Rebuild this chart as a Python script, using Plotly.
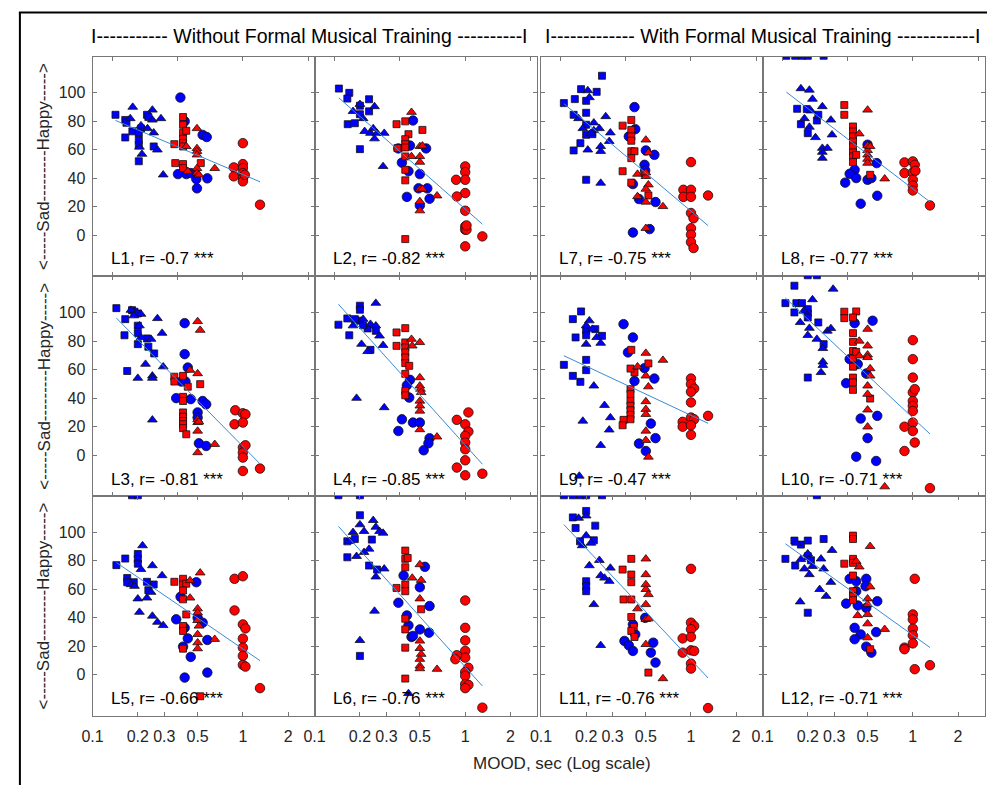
import numpy as np
import plotly.graph_objects as go

# ---------------- data (x = MOOD sec, y = rating) ----------------
# BS blue squares, BT blue triangles, BC blue circles, RS red squares, RT red triangles, RC red circles
L1_BS = [(0.142,84.6),(0.165,81),(0.168,79),(0.165,68.7),(0.184,73),(0.203,67),(0.203,63.5),(0.203,52),(0.23,84.6),(0.235,83),(0.255,62.4),(0.21,75),(0.203,72)]
L1_BT = [(0.185,90),(0.178,82),(0.21,77),(0.232,75),(0.25,88),(0.25,81),(0.255,72),(0.285,82),(0.27,60),(0.205,62),(0.213,57),(0.295,42.5)]
L1_BC = [(0.384,96.7),(0.41,80),(0.37,43),(0.42,43),(0.49,39.5),(0.495,33),(0.54,70.5),(0.575,69),(0.58,40),(0.45,43.7)]
L1_RS = [(0.35,64),(0.4,83),(0.4,77.6),(0.4,72),(0.42,73.4),(0.4,67.8),(0.4,64.7),(0.4,62.4),(0.355,50.7),(0.4,50),(0.4,47.2),(0.525,50.7)]
L1_RT = [(0.495,75),(0.495,61),(0.495,59),(0.495,56.5),(0.42,62.4),(0.43,45),(0.495,47),(0.495,43.7),(0.51,42.5),(0.65,47)]
L1_RC = [(1.0,64.7),(1.0,50),(1.0,47.2),(1.0,43.7),(1.0,40),(1.0,37.9),(0.87,47.7),(0.87,41.4),(1.03,42.5),(1.3,21.5)]

L2_BS = [(0.145,103),(0.17,100),(0.165,96),(0.23,95.5),(0.2,91),(0.23,87),(0.2,85),(0.166,78),(0.185,78.7),(0.2,60.5)]
L2_BT = [(0.2,92),(0.18,87),(0.25,90.4),(0.21,82),(0.215,73),(0.235,71.7),(0.25,67.8),(0.245,75),(0.26,71.7),(0.29,71.7),(0.285,48.4)]
L2_BC = [(0.45,80.6),(0.36,61),(0.38,51),(0.42,45),(0.43,63),(0.5,43),(0.55,61),(0.41,27),(0.49,33),(0.56,33),(0.58,25.7),(0.5,21)]
L2_RS = [(0.35,78),(0.4,80),(0.42,71),(0.4,67.5),(0.4,64),(0.4,61.7),(0.355,61.2),(0.52,74),(0.4,55.4),(0.4,46),(0.4,38.6),(0.4,-2.6)]
L2_RT = [(0.44,86.4),(0.5,62.4),(0.52,62.8),(0.5,55.4),(0.5,51.4),(0.44,55.4),(0.5,32.5),(0.52,32.5),(0.5,23.8),(0.5,17.3),(0.65,27.8)]
L2_RC = [(1.0,48.4),(1.0,44.4),(1.0,39),(1.0,29.7),(1.0,17.3),(1.0,6.3),(1.0,4),(1.02,4),(1.02,7),(1.0,-7.7),(0.87,39),(0.88,27.3),(1.3,-0.7)]

L3_BS = [(0.144,103),(0.165,95.3),(0.183,101.6),(0.19,100.5),(0.2,99.3),(0.2,90.7),(0.2,85.5),(0.23,81.8),(0.163,84),(0.2,77.8),(0.235,76),(0.257,71.3),(0.17,59)]
L3_BT = [(0.18,101.6),(0.21,98.8),(0.188,97.7),(0.27,95.8),(0.29,85.5),(0.205,90.7),(0.21,82.5),(0.245,81.3),(0.225,63.8),(0.295,62),(0.2,54),(0.25,55.6),(0.25,54),(0.25,24.8)]
L3_BC = [(0.41,92.5),(0.41,70.8),(0.43,61.4),(0.39,51.6),(0.415,51.6),(0.36,40),(0.45,39.3),(0.54,38),(0.57,35.7),(0.5,30),(0.5,26.4),(0.51,8.4),(0.57,6.5)]
L3_RS = [(0.35,55),(0.35,51.6),(0.4,55.6),(0.43,48),(0.52,49.8),(0.4,40.9),(0.4,38),(0.4,30),(0.4,27),(0.4,24),(0.4,21.7),(0.4,19),(0.42,14.7)]
L3_RT = [(0.5,93.7),(0.52,87.6),(0.445,59.6),(0.5,57.2),(0.5,25),(0.5,23),(0.51,23.4),(0.5,17),(0.65,7.7),(0.5,1.9)]
L3_RC = [(0.89,31.5),(1.0,29.4),(1.04,28.7),(0.88,21.7),(1.0,22.9),(1.0,5.4),(1.04,7),(1.0,1.9),(1.0,-1.6),(1.0,-11),(1.3,-9.3)]

L4_BS = [(0.144,91.4),(0.165,95.8),(0.17,84),(0.2,104.7),(0.2,101.9),(0.2,94.2),(0.185,95.3),(0.225,88.8),(0.255,87.1),(0.21,91),(0.235,73.8)]
L4_BT = [(0.255,106.5),(0.18,90.7),(0.21,95.3),(0.235,91.8),(0.255,90.7),(0.27,83.6),(0.285,77),(0.205,77.8),(0.225,72.7),(0.19,40),(0.29,33.4)]
L4_BC = [(0.43,52.8),(0.41,49),(0.425,40.4),(0.38,25.2),(0.36,17),(0.45,22.9),(0.5,22.9),(0.58,11.9),(0.57,8.4),(0.53,3.5)]
L4_RS = [(0.35,86),(0.4,89),(0.35,76.6),(0.4,79),(0.4,75.5),(0.4,72),(0.4,68.5),(0.4,64.5),(0.425,62.6),(0.4,57),(0.4,45),(0.4,42)]
L4_RT = [(0.44,81.3),(0.445,76.6),(0.5,79),(0.5,54.4),(0.5,48.6),(0.505,46.3),(0.51,44),(0.5,38),(0.5,34.6),(0.5,31),(0.5,18),(0.65,12.9)]
L4_RC = [(1.05,30),(0.88,24.8),(1.0,21.7),(1.05,16.6),(1.0,13.6),(1.0,8.9),(1.0,4.2),(1.0,-3.5),(0.88,-8.6),(1.0,-14),(1.3,-12.9)]

L5_BS = [(0.183,126),(0.2,126),(0.144,77),(0.165,81.6),(0.17,68),(0.2,84.8),(0.2,81.4),(0.2,78),(0.188,65),(0.235,59.4),(0.255,63.4),(0.23,65.3),(0.17,65)]
L5_BT = [(0.215,90.7),(0.25,76.7),(0.21,74),(0.29,69.7),(0.18,63.4),(0.19,62.2),(0.2,53.4),(0.23,54),(0.245,58),(0.205,44),(0.25,41.3),(0.27,37),(0.295,34.7)]
L5_BC = [(0.49,65),(0.385,54.8),(0.36,39),(0.41,33),(0.5,40),(0.54,36.6),(0.43,25.6),(0.4,19.8),(0.58,24.5),(0.45,12.6),(0.41,-1.9),(0.58,1.6)]
L5_RS = [(0.35,65.3),(0.4,67.4),(0.4,63.4),(0.42,64),(0.4,59.2),(0.4,53),(0.42,42.4),(0.4,34.3),(0.4,30.8),(0.4,18.4),(0.52,-15)]
L5_RT = [(0.52,71.6),(0.445,66.2),(0.445,54),(0.5,46.4),(0.5,43.6),(0.5,38.2),(0.51,34.3),(0.5,28.4),(0.5,22.6),(0.5,18.4),(0.65,25)]
L5_RC = [(0.88,67.4),(1.0,69.2),(0.88,45.2),(1.0,35.4),(1.04,32.6),(1.0,25.4),(1.0,19.1),(1.0,13.3),(1.0,7),(1.04,5.8),(1.3,-9.3)]

L6_BS = [(0.144,126),(0.2,126),(0.2,112),(0.185,95.3),(0.165,82.5),(0.24,94.9),(0.23,76.7),(0.26,73.9),(0.2,13.3),(0.165,93.7)]
L6_BT = [(0.2,105.4),(0.245,108.4),(0.18,100),(0.213,100.7),(0.255,103.7),(0.27,100.7),(0.285,99.5),(0.17,93.7),(0.19,83.2),(0.23,88.3),(0.213,86),(0.255,68.8),(0.29,74.4),(0.25,44.8),(0.2,24.2),(0.42,-13)]
L6_BC = [(0.54,75.8),(0.39,69.7),(0.5,61.5),(0.36,50.6),(0.58,48.3),(0.41,41.7),(0.42,34.7),(0.5,31.9),(0.575,29.6),(0.44,26.6),(0.45,27.3)]
L6_RS = [(0.4,87.2),(0.4,81.4),(0.415,82),(0.4,75.5),(0.35,61),(0.4,63.4),(0.4,58.7),(0.51,46),(0.4,39.4),(0.4,31.9),(0.4,19.1),(0.4,-2.6)]
L6_RT = [(0.5,77.4),(0.445,68),(0.51,66.4),(0.5,53.4),(0.5,23.8),(0.5,18.6),(0.51,14.5),(0.5,11),(0.5,6.3),(0.5,4.4),(0.65,4)]
L6_RC = [(1.0,52.2),(1.0,33),(1.0,24.2),(1.0,16.8),(1.0,12.1),(0.88,13.8),(0.86,11),(1.05,5),(1.0,2),(1.0,-0.7),(1.0,-6.5),(1.05,-7),(1.0,-9.3),(1.3,-23)]

L7_BS = [(0.142,92.8),(0.168,95.6),(0.185,102.6),(0.2,94.4),(0.2,86),(0.235,100.7),(0.255,112),(0.165,84.6),(0.2,77.6),(0.2,70.6),(0.183,64.7),(0.165,59.6),(0.2,39),(0.22,71)]
L7_BT = [(0.205,101.6),(0.21,96.7),(0.178,82),(0.19,75),(0.225,79),(0.225,73.6),(0.245,75),(0.27,83.4),(0.29,72),(0.285,66),(0.25,62.4),(0.25,59),(0.205,60),(0.25,36.7),(0.215,71.7)]
L7_BC = [(0.42,90),(0.425,74.5),(0.385,69.4),(0.5,59.6),(0.57,56.5),(0.49,49.5),(0.495,45.6),(0.41,36),(0.45,25.5),(0.58,23.4),(0.41,2),(0.53,4.4)]
L7_RS = [(0.35,77),(0.4,81),(0.4,74),(0.4,69.4),(0.4,66.4),(0.4,59),(0.42,59),(0.4,54.2),(0.35,45),(0.4,37),(0.52,28),(0.49,43.7)]
L7_RT = [(0.5,67),(0.52,58),(0.44,43),(0.5,41.4),(0.5,44),(0.52,35.5),(0.5,32.5),(0.44,27.3),(0.5,23.4),(0.65,20.3),(0.5,5)]
L7_RC = [(1.0,51.4),(0.89,32),(1.0,32),(0.89,27),(1.0,27),(1.3,28),(1.0,15.7),(1.04,12),(1.0,5),(1.0,0.5),(1.0,-4.7),(1.04,-8.9)]

L8_BS = [(0.144,126),(0.165,126),(0.183,126),(0.2,126),(0.255,126),(0.17,88.8),(0.197,88.6),(0.23,80.6),(0.18,78),(0.2,71.7),(0.235,84.6)]
L8_BT = [(0.18,103),(0.205,102),(0.215,95.6),(0.25,90.4),(0.21,87.4),(0.19,82),(0.285,81),(0.205,76),(0.225,68.7),(0.29,70.6),(0.25,61.2),(0.27,61.2),(0.25,58.4),(0.25,54.2)]
L8_BC = [(0.5,63.6),(0.575,50.7),(0.41,46),(0.38,43.2),(0.42,40.2),(0.355,37),(0.5,39),(0.53,40.2),(0.58,27.8),(0.45,22.2)]
L8_RS = [(0.35,91.4),(0.35,84.6),(0.4,76.4),(0.4,72.9),(0.4,69.4),(0.4,65.9),(0.4,62.4),(0.4,58.2),(0.4,55.4),(0.4,51.4),(0.42,56.5),(0.52,42.5)]
L8_RT = [(0.5,88),(0.44,71.3),(0.5,63),(0.5,59.6),(0.5,56.5),(0.5,53.5),(0.5,50.7),(0.52,62.4),(0.65,39.7)]
L8_RC = [(0.88,51.2),(1.0,51.9),(1.03,49.5),(0.88,43.7),(1.0,44.2),(1.04,45.3),(1.0,39),(1.0,35),(1.0,31.5),(1.3,21)]

L9_BS = [(0.142,63.3),(0.163,95.3),(0.185,100.7),(0.17,82.5),(0.2,87.6),(0.2,84),(0.2,66.8),(0.2,59.6),(0.163,55.6),(0.183,51.4),(0.23,88.3),(0.255,83.6)]
L9_BT = [(0.21,94.2),(0.2,90.7),(0.22,88.3),(0.235,82.5),(0.2,77.8),(0.25,78.5),(0.225,48.6),(0.265,35),(0.29,26.4),(0.285,17.8),(0.19,24),(0.25,7),(0.18,-14.5)]
L9_BC = [(0.355,91.8),(0.41,82.5),(0.38,72),(0.49,61),(0.42,52),(0.57,53.7),(0.54,22.2),(0.58,12),(0.45,8.2),(0.5,3)]
L9_RS = [(0.4,73.8),(0.42,58),(0.395,60.7),(0.52,64.3),(0.395,46.3),(0.395,42.8),(0.395,38),(0.395,34.6),(0.395,31.5),(0.395,28.3),(0.395,25.2),(0.355,24.8),(0.35,21)]
L9_RT = [(0.5,71.5),(0.65,66.6),(0.44,62),(0.5,55.6),(0.52,48),(0.5,37.6),(0.5,32.2),(0.5,28.7),(0.5,17),(0.5,10.5),(0.52,-1.2)]
L9_RC = [(1.0,53.7),(1.0,49.8),(1.05,46.7),(1.0,44.4),(1.0,37),(1.0,26.4),(1.05,25.2),(0.88,23.4),(0.88,20),(1.0,21),(1.0,14.3),(1.3,27.6)]

L10_BS = [(0.2,126),(0.23,126),(0.163,118.7),(0.142,106.5),(0.168,106.5),(0.183,106.5),(0.2,102.3),(0.2,99.5),(0.2,96.5),(0.163,100),(0.235,93),(0.255,77.8),(0.2,54.4)]
L10_BT = [(0.215,109),(0.295,116.4),(0.188,101),(0.178,93),(0.205,89),(0.2,84),(0.23,81.3),(0.27,87),(0.285,88.8),(0.252,74.8),(0.252,65.4),(0.252,63),(0.245,58)]
L10_BC = [(0.54,94.2),(0.41,92.5),(0.38,67.3),(0.43,63.8),(0.49,57.2),(0.36,50.5),(0.45,25.7),(0.58,27.6),(0.5,12),(0.42,-1),(0.57,-4)]
L10_RS = [(0.35,100.5),(0.35,96),(0.42,100.7),(0.4,96.5),(0.4,85.5),(0.4,79.4),(0.4,73),(0.4,67.8),(0.4,62),(0.4,54.4),(0.4,51),(0.4,45.8),(0.42,72.4),(0.52,39.7)]
L10_RT = [(0.5,88.3),(0.44,80),(0.5,76.6),(0.5,70.3),(0.5,68.5),(0.44,69.6),(0.52,60.7),(0.52,55.6),(0.5,48.6),(0.5,42.8),(0.5,31.8),(0.5,19.9),(0.65,-22)]
L10_RC = [(1.0,80.6),(1.0,67.3),(1.0,54.4),(1.0,44),(1.03,46.3),(1.0,38),(1.0,34.6),(1.0,31),(1.0,22.9),(1.0,17),(0.88,20),(1.03,8.9),(0.88,3),(1.3,-23)]

L11_BS = [(0.142,126),(0.163,126),(0.182,126),(0.2,126),(0.255,126),(0.163,110.5),(0.2,115),(0.17,103),(0.23,104.7),(0.182,93.7),(0.225,94.4),(0.2,65.7),(0.2,62.2),(0.2,58.7)]
L11_BT = [(0.178,110),(0.2,111.6),(0.2,97.7),(0.188,90.7),(0.215,92.5),(0.245,80.4),(0.21,76.7),(0.29,75),(0.25,69.7),(0.265,68),(0.285,65.7),(0.225,49.4),(0.25,20.7)]
L11_BC = [(0.495,40),(0.41,35.4),(0.425,28.4),(0.36,23.8),(0.385,20.7),(0.41,16.8),(0.54,15.6),(0.56,22.6),(0.58,8.6)]
L11_RS = [(0.4,81.4),(0.35,73.9),(0.4,70.4),(0.4,65),(0.355,52.9),(0.4,52.9),(0.4,40.6),(0.415,33.6),(0.4,30.8),(0.42,26.6),(0.52,1.6)]
L11_RT = [(0.5,81.4),(0.5,70.4),(0.5,63.4),(0.5,60),(0.52,56.4),(0.5,49.4),(0.44,46.4),(0.5,39),(0.52,39.4),(0.5,21.4),(0.65,-2.6)]
L11_RC = [(1.0,74.4),(1.0,36.6),(1.05,34.3),(1.0,32),(0.88,25.6),(1.0,26.6),(1.0,17.2),(1.05,16.8),(0.88,15.6),(1.0,7.9),(1.0,4.4),(1.3,-23.3)]

L12_BS = [(0.23,126),(0.142,81.4),(0.163,94.2),(0.18,91.4),(0.2,94.2),(0.255,95.3),(0.165,76.7),(0.2,43.6),(0.2,83.2),(0.21,80.4)]
L12_BT = [(0.168,92.5),(0.29,87.4),(0.18,81),(0.2,85),(0.19,74.4),(0.215,76.2),(0.245,81.4),(0.255,74.4),(0.205,70.4),(0.285,65),(0.24,60),(0.265,55.2),(0.178,51.3)]
L12_BC = [(0.38,67.4),(0.42,65.7),(0.49,67.4),(0.485,62.2),(0.42,58.7),(0.36,50),(0.43,48.7),(0.58,51.7),(0.49,47),(0.41,33),(0.45,28.4),(0.57,30),(0.41,25),(0.49,19.8),(0.53,15.6)]
L12_RS = [(0.4,97.7),(0.4,95.3),(0.35,78),(0.4,81.4),(0.4,78.6),(0.4,69.7),(0.4,58.7),(0.4,55.2),(0.4,52.4),(0.52,18)]
L12_RT = [(0.52,90.2),(0.42,79.7),(0.44,75.8),(0.52,61.8),(0.5,53.4),(0.5,49.4),(0.5,42.4),(0.5,35.9),(0.5,26.1),(0.43,41.7),(0.65,32)]
L12_RC = [(1.03,67.4),(1.0,42.4),(1.0,38.9),(1.0,32.4),(1.0,27.7),(1.0,22.1),(0.88,19.1),(0.88,18),(1.03,4),(1.3,6.8)]

PANEL_NAMES = [["L1", "L2", "L7", "L8"],
               ["L3", "L4", "L9", "L10"],
               ["L5", "L6", "L11", "L12"]]
R_VALUES = {"L1": "-0.7", "L2": "-0.82", "L7": "-0.75", "L8": "-0.77",
            "L3": "-0.81", "L4": "-0.85", "L9": "-0.47", "L10": "-0.71",
            "L5": "-0.66", "L6": "-0.76", "L11": "-0.76", "L12": "-0.71"}
Y_TICKS = [0, 20, 40, 60, 80, 100]
X_TICKS_BOTTOM = [0.1, 0.2, 0.3, 0.5, 1, 2]
X_TICKTEXT_BOTTOM = ["0.1", "0.2", "0.3", "0.5", "1", "2"]
X_TICKS_UPPER = [np.exp(-2), np.exp(-1), 1.0, np.exp(1)]
HEADER_LEFT = "I----------- Without Formal Musical Training ----------I"
HEADER_RIGHT = "I------------- With Formal Musical Training ------------I"
Y_TITLE = "<-----Sad---------Happy----->"
X_TITLE = "MOOD, sec (Log scale)"

# ---------------- styling / layout ----------------
W, H = 987, 785
COL_PX = [(82.5, 307), (307, 532), (536, 760), (760, 984.5)]
ROW_PX = [(56.5, 276), (276, 496), (496, 715.5)]
XRANGE = [np.log10(0.1), np.log10(3)]
YRANGE = [-28.5, 125.5]
FONT = "Liberation Sans, Arial, Helvetica, sans-serif"
TXT = "#262626"
AXC = "#777777"
BLUE, RED = "#0000ff", "#ff0000"
GROUPS = [("BS", "square", BLUE, 7), ("BT", "triangle-up", BLUE, 8.5),
          ("BC", "circle", BLUE, 9.5), ("RS", "square", RED, 7),
          ("RT", "triangle-up", RED, 8.5), ("RC", "circle", RED, 9.5)]

def px_x(px):
    return px / W

def px_y(py):
    return 1 - py / H

g = globals()
fig = go.Figure()
layout = dict(width=W, height=H, margin=dict(l=0, r=0, t=0, b=0),
              paper_bgcolor="white", plot_bgcolor="white", showlegend=False,
              font=dict(family=FONT, color=TXT, size=16))
annotations = []

k = 0
for ri, row in enumerate(PANEL_NAMES):
    for ci, name in enumerate(row):
        k += 1
        xa = "x" if k == 1 else f"x{k}"
        ya = "y" if k == 1 else f"y{k}"
        allx, ally = [], []
        for code, sym, col, size in GROUPS:
            pts = g[f"{name}_{code}"]
            xs = [p[0] for p in pts]
            ys = [p[1] for p in pts]
            allx += xs
            ally += ys
            fig.add_trace(go.Scatter(
                x=xs, y=ys, mode="markers", xaxis=xa, yaxis=ya,
                marker=dict(symbol=sym, size=size, color=col,
                            line=dict(color="#111111", width=0.8)),
                hoverinfo="skip"))
        lx = np.log10(np.array(allx))
        slope, icpt = np.polyfit(lx, np.array(ally), 1)
        xl = np.array([min(allx), max(allx)])
        fig.add_trace(go.Scatter(
            x=xl, y=slope * np.log10(xl) + icpt, mode="lines",
            xaxis=xa, yaxis=ya, line=dict(color="#3a8ad6", width=1),
            hoverinfo="skip"))

        x0, x1 = COL_PX[ci]
        y0, y1 = ROW_PX[ri]
        bottom = (ri == len(PANEL_NAMES) - 1)
        xkey = "xaxis" if k == 1 else f"xaxis{k}"
        ykey = "yaxis" if k == 1 else f"yaxis{k}"
        layout[xkey] = dict(
            domain=[px_x(x0), px_x(x1)], anchor=ya, type="log",
            range=XRANGE, showgrid=False, zeroline=False,
            showline=True, linecolor=AXC, linewidth=1, mirror="ticks",
            ticks="inside", ticklen=4, tickcolor=AXC,
            tickmode="array",
            tickvals=X_TICKS_BOTTOM if bottom else X_TICKS_UPPER,
            ticktext=X_TICKTEXT_BOTTOM if bottom else ["", "", "", ""],
            showticklabels=bottom, ticklabelstandoff=6,
            tickfont=dict(size=16, color=TXT, family=FONT))
        layout[ykey] = dict(
            domain=[px_y(y1), px_y(y0)], anchor=xa, range=YRANGE,
            showgrid=False, zeroline=False,
            showline=True, linecolor=AXC, linewidth=1, mirror="ticks",
            ticks="inside", ticklen=4, tickcolor=AXC,
            tickmode="array", tickvals=Y_TICKS,
            showticklabels=(ci == 0), ticklabelstandoff=3,
            tickfont=dict(size=16, color=TXT, family=FONT))
        annotations.append(dict(
            text=f"{name}, r= {R_VALUES[name]} ***", xref="paper", yref="paper",
            x=px_x(x0 + 16.5), y=px_y(y1 - 17), xanchor="left", yanchor="middle",
            showarrow=False, font=dict(size=17, color="black", family=FONT)))

for ri, (y0, y1) in enumerate(ROW_PX):
    annotations.append(dict(
        text=Y_TITLE, xref="paper", yref="paper", x=px_x(33), y=px_y((y0 + y1) / 2),
        xanchor="center", yanchor="middle", textangle=-90, showarrow=False,
        font=dict(size=17, color=TXT, family=FONT)))

annotations.append(dict(text=HEADER_LEFT, xref="paper", yref="paper",
                        x=px_x(302), y=px_y(36), xanchor="center", yanchor="middle",
                        showarrow=False, font=dict(size=19.5, color="black", family=FONT)))
annotations.append(dict(text=HEADER_RIGHT, xref="paper", yref="paper",
                        x=px_x(760), y=px_y(36), xanchor="center", yanchor="middle",
                        showarrow=False, font=dict(size=19.5, color="black", family=FONT)))
annotations.append(dict(text=X_TITLE, xref="paper", yref="paper",
                        x=px_x(557), y=px_y(763), xanchor="center", yanchor="middle",
                        showarrow=False, font=dict(size=17, color=TXT, family=FONT)))

layout["annotations"] = annotations
layout["shapes"] = [
    dict(type="line", xref="paper", yref="paper", x0=px_x(8), x1=1.01,
         y0=px_y(12.5), y1=px_y(12.5), line=dict(color="black", width=2)),
    dict(type="line", xref="paper", yref="paper", x0=px_x(9), x1=px_x(9),
         y0=px_y(12), y1=-0.01, line=dict(color="black", width=2)),
]
fig.update_layout(**layout)
fig.write_html("out.html")
